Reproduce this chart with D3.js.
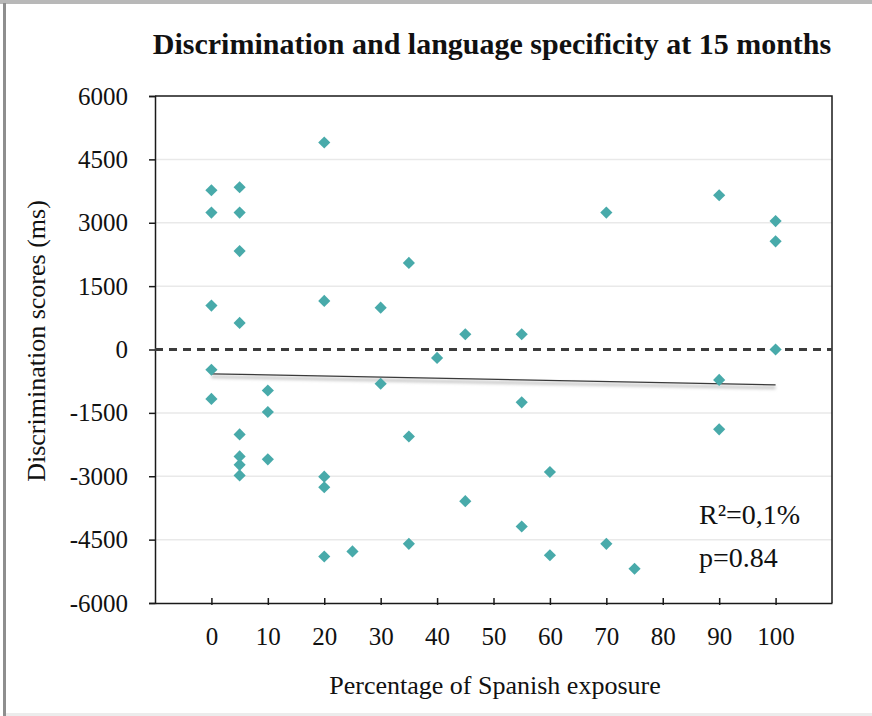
<!DOCTYPE html>
<html>
<head>
<meta charset="utf-8">
<script src="https://cdn.jsdelivr.net/npm/d3@7"></script>
<style>
  html, body { margin: 0; padding: 0; background: #fff; }
  svg { display: block; }
</style>
</head>
<body>
<svg id="chart" width="872" height="716"></svg>
<script>
// Percentage of Spanish exposure for each infant
const exposure = [
  0, 0, 0, 0, 0,
  5, 5, 5, 5, 5, 5, 5, 5,
  10, 10, 10,
  20, 20, 20, 20, 20,
  25,
  30, 30,
  35, 35, 35,
  40,
  45, 45,
  55, 55, 55,
  60, 60,
  70, 70,
  75,
  90, 90, 90,
  100, 100, 100
];
// Discrimination score (ms) for each infant, same order as exposure
const scores = [
  3770, 3240, 1040, -480, -1170,
  3840, 3240, 2330, 630, -2010, -2530, -2730, -2980,
  -970, -1480, -2600,
  4900, 1150, -3010, -3260, -4900,
  -4780,
  990, -810,
  2050, -2060, -4600,
  -200,
  360, -3590,
  360, -1250, -4190,
  -2900, -4870,
  3240, -4600,
  -5190,
  3650, -720, -1890,
  3040, 2560, 0
];
const xTicks = [0, 10, 20, 30, 40, 50, 60, 70, 80, 90, 100];
const yTicks = [6000, 4500, 3000, 1500, 0, -1500, -3000, -4500, -6000];
const titleText = "Discrimination and language specificity at 15 months";
const xTitle = "Percentage of Spanish exposure";
const yTitle = "Discrimination scores (ms)";
const statLines = ["R\u00B2=0,1%", "p=0.84"];

const SERIF = '"Liberation Serif", "Times New Roman", Times, serif';
const svg = d3.select("#chart");
const W = 872, H = 716;
const plot = { left: 155, right: 832, top: 96, bottom: 603 };

// Page frame edges
svg.append("rect").attr("x", 0).attr("y", 0).attr("width", W).attr("height", 4).attr("fill", "#b8b8b8");
svg.append("rect").attr("x", 3).attr("y", 3).attr("width", 3).attr("height", H - 3).attr("fill", "#8e8e8e");
svg.append("rect").attr("x", 6).attr("y", 713).attr("width", W - 6).attr("height", 3).attr("fill", "#ececec");

const x = d3.scaleLinear().domain([-10, 110]).range([plot.left, plot.right]);
const y = d3.scaleLinear().domain([-6000, 6000]).range([plot.bottom, plot.top]);
const plain = d => String(d);

// Horizontal gridlines
svg.append("g").selectAll("line")
  .data(yTicks.filter(v => v !== 0 && v !== 6000 && v !== -6000))
  .join("line")
  .attr("x1", plot.left).attr("x2", plot.right)
  .attr("y1", d => y(d)).attr("y2", d => y(d))
  .attr("stroke", "#e9e9e9").attr("stroke-width", 1.5);

// Plot frame (top and right)
svg.append("path")
  .attr("d", `M${plot.left},${y(6000)}H${plot.right}V${plot.bottom}`)
  .attr("fill", "none").attr("stroke", "#1a1a1a").attr("stroke-width", 1.5);

// Y axis
const yAxis = d3.axisLeft(y).tickValues(yTicks).tickSize(6).tickPadding(21).tickFormat(plain);
const gy = svg.append("g").attr("transform", `translate(${plot.left},0)`).call(yAxis);
gy.attr("font-family", null);
gy.select(".domain").attr("stroke", "#1a1a1a").attr("stroke-width", 1.5);
gy.selectAll(".tick line").attr("stroke", "#1a1a1a").attr("stroke-width", 1.5);
gy.selectAll(".tick text")
  .style("font-family", SERIF)
  .style("font-size", "25px").attr("fill", "#111");

// X axis with ticks pointing inward
const xAxis = d3.axisBottom(x).tickValues(xTicks).tickSizeInner(-6).tickSizeOuter(0).tickPadding(0).tickFormat(plain);
const gx = svg.append("g").attr("transform", `translate(0,${plot.bottom})`).call(xAxis);
gx.attr("font-family", null);
gx.select(".domain").attr("stroke", "#1a1a1a").attr("stroke-width", 1.5);
gx.selectAll(".tick line").attr("stroke", "#1a1a1a").attr("stroke-width", 1.5).attr("y2", -5).attr("y1", 2);
gx.selectAll(".tick text")
  .attr("y", 42).attr("dy", null)
  .style("font-family", SERIF)
  .style("font-size", "25px").attr("fill", "#111");

// Dashed zero reference line
svg.append("line")
  .attr("x1", plot.left).attr("x2", plot.right)
  .attr("y1", y(0)).attr("y2", y(0))
  .attr("stroke", "#3c3c3c").attr("stroke-width", 3)
  .attr("stroke-dasharray", "8,6");

// Least-squares trend line
const n = exposure.length;
const mx = d3.mean(exposure), my = d3.mean(scores);
let sxy = 0, sxx = 0;
for (let i = 0; i < n; i++) {
  sxy += (exposure[i] - mx) * (scores[i] - my);
  sxx += (exposure[i] - mx) ** 2;
}
const slope = sxy / sxx, intercept = my - slope * mx;
const xMin = d3.min(exposure), xMax = d3.max(exposure);

const defs = svg.append("defs");
defs.append("filter").attr("id", "soft").attr("x", "-5%").attr("y", "-200%").attr("width", "110%").attr("height", "500%")
  .append("feGaussianBlur").attr("stdDeviation", 1.6);

svg.append("line")
  .attr("x1", x(xMin)).attr("x2", x(xMax))
  .attr("y1", y(intercept + slope * xMin) + 3).attr("y2", y(intercept + slope * xMax) + 3)
  .attr("stroke", "#c8c8c8").attr("stroke-width", 3).attr("filter", "url(#soft)");
svg.append("line")
  .attr("x1", x(xMin)).attr("x2", x(xMax))
  .attr("y1", y(intercept + slope * xMin)).attr("y2", y(intercept + slope * xMax))
  .attr("stroke", "#3a3a3a").attr("stroke-width", 1.3);

// Data points as diamonds
const diamond = d3.symbol(d3.symbolSquare, 74);
svg.append("g").selectAll("path")
  .data(d3.range(n))
  .join("path")
  .attr("d", diamond)
  .attr("transform", i => `translate(${x(exposure[i])},${y(scores[i])}) rotate(45)`)
  .attr("fill", "#48aaaa");

// Title
svg.append("text")
  .attr("x", 492).attr("y", 54)
  .attr("text-anchor", "middle")
  .style("font-family", SERIF)
  .style("font-size", "30px").style("font-weight", "bold")
  .attr("fill", "#111")
  .text(titleText);

// Axis titles
svg.append("text")
  .attr("x", 495).attr("y", 694)
  .attr("text-anchor", "middle")
  .style("font-family", SERIF)
  .style("font-size", "26px")
  .attr("fill", "#111")
  .text(xTitle);

svg.append("text")
  .attr("transform", `translate(45,341) rotate(-90)`)
  .attr("text-anchor", "middle")
  .style("font-family", SERIF)
  .style("font-size", "26px")
  .attr("fill", "#111")
  .text(yTitle);

// Fit statistics
svg.append("g").selectAll("text")
  .data(statLines)
  .join("text")
  .attr("x", 699).attr("y", (d, i) => 524 + i * 43)
  .style("font-family", SERIF)
  .style("font-size", "28px")
  .attr("fill", "#111")
  .text(d => d);
</script>
</body>
</html>
